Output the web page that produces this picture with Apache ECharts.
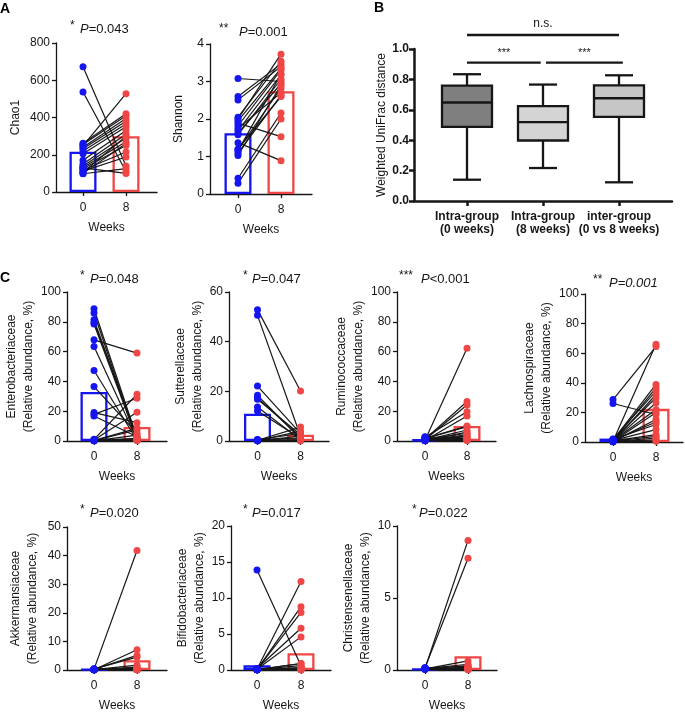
<!DOCTYPE html>
<html><head><meta charset="utf-8">
<script src="https://cdn.jsdelivr.net/npm/echarts@6/dist/echarts.min.js"></script>
<style>html,body{margin:0;padding:0;background:#fff}#c{width:685px;height:713px}</style>
</head><body><div id="c"></div><script>
// ---------------- DATA ----------------
const weeks = [0, 8];
const weekLabels = ['0', '8'];

const chao1Week0 = [673, 537, 262, 255, 248, 240, 232, 220, 205, 170, 150, 140, 132, 125, 118, 112, 105, 100, 98, 130];
const chao1Week8 = [140, 110, 420, 410, 528, 395, 380, 365, 350, 330, 310, 290, 270, 250, 215, 188, 300, 260, 125, 100];
const chao1Bars = [216, 300];

const shannonWeek0 = [3.08, 2.60, 2.51, 2.05, 2.00, 1.89, 1.82, 1.69, 1.62, 1.58, 1.37, 1.18, 1.15, 1.09, 1.03, 0.42, 0.29, 1.95, 1.20, 1.75];
const shannonWeek8 = [3.00, 3.47, 3.40, 3.54, 3.73, 1.53, 3.31, 3.18, 2.94, 3.06, 0.89, 2.82, 3.20, 2.63, 2.90, 2.16, 2.00, 3.35, 2.60, 2.70];
const shannonBars = [1.62, 2.74];

const enteroWeek0 = [88.8, 85.9, 81.4, 79.6, 78.5, 67.9, 63.5, 47.3, 36.5, 19.1, 17.9, 16.8, 1.1, 0.6, 0.4, 0.3, 0.2, 0.1, 0.5, 0.8];
const enteroWeek8 = [2.0, 0.5, 1.5, 3.0, 0.8, 59.0, 1.0, 0.5, 5.2, 12.3, 28.7, 2.9, 31.4, 19.3, 8.5, 7.4, 1.8, 4.0, 0.3, 1.2];
const enteroBars = [32.9, 9.4];

const sutterWeek0 = [52.9, 50.6, 22.1, 18.4, 17.4, 16.8, 13.7, 12.1, 0.3, 0.2, 0.5, 0.1, 0.4, 0.3, 0.2, 0.6, 0.1, 0.3];
const sutterWeek8 = [20.1, 2.0, 3.1, 0.9, 1.5, 2.5, 0.5, 1.0, 5.6, 4.0, 3.1, 2.0, 0.9, 0.3, 0.5, 1.2, 0.2, 0.1];
const sutterBars = [11.0, 2.55];

const ruminoWeek0 = [0.5, 1.2, 0.8, 2.5, 0.3, 1.5, 0.6, 0.9, 0.4, 2.0, 1.1, 0.7, 0.2, 1.8, 0.5, 0.3, 1.0, 0.6, 2.8, 0.4];
const ruminoWeek8 = [62.3, 26.5, 24.2, 19.7, 16.8, 9.6, 7.4, 5.2, 2.9, 1.1, 0.5, 3.5, 0.8, 10.0, 6.0, 2.0, 0.3, 4.2, 1.5, 0.7];
const ruminoBars = [1.0, 10.1];

const lachnoWeek0 = [28.7, 26.0, 0.5, 1.2, 0.8, 2.0, 0.3, 1.5, 0.6, 0.9, 0.4, 1.8, 1.1, 0.7, 0.2, 0.5, 0.3, 1.0, 0.6, 0.4];
const lachnoWeek8 = [64.5, 18.6, 66.0, 38.9, 36.6, 34.4, 32.1, 29.9, 26.5, 22.0, 15.2, 11.8, 8.4, 5.0, 2.7, 0.5, 20.0, 13.5, 3.8, 1.5];
const lachnoBars = [2.3, 22.4];

const akkerWeek0 = [0.3, 0.1, 0.2, 0.4, 0.1, 0.2, 0.3, 0.1, 0.2, 0.1, 0.3, 0.2, 0.1, 0.2, 0.1, 0.4, 0.2, 0.1, 0.3, 0.2];
const akkerWeek8 = [41.8, 7.1, 5.1, 4.5, 1.7, 0.6, 0.3, 0.1, 0.2, 0.5, 0.1, 0.3, 1.0, 0.2, 0.1, 0.4, 0.2, 0.1, 0.3, 0.2];
const akkerBars = [0.3, 3.4];

const bifidoWeek0 = [13.9, 0.1, 0.05, 0.1, 0.2, 0.1, 0.05, 0.1, 0.1, 0.05, 0.1, 0.2, 0.1, 0.05, 0.1, 0.1, 0.05, 0.1, 0.1, 0.05];
const bifidoWeek8 = [0.6, 12.3, 8.8, 8.0, 5.8, 4.6, 0.9, 0.3, 0.1, 0.05, 0.6, 0.2, 0.1, 0.05, 0.3, 0.1, 0.05, 0.2, 0.1, 0.9];
const bifidoBars = [0.67, 2.33];

const christWeek0 = [0.1, 0.15, 0.08, 0.1, 0.12, 0.05, 0.1, 0.08, 0.15, 0.1, 0.05, 0.1, 0.12, 0.08, 0.1, 0.05, 0.1, 0.08];
const christWeek8 = [9.0, 7.76, 0.63, 0.4, 0.25, 0.1, 0.05, 0.3, 0.15, 0.05, 0.2, 0.1, 0.05, 0.08, 0.1, 0.05, 0.02, 0.1];
const christBars = [0.08, 0.96];

const yNames = ['Chao1', 'Shannon',
  'Enterobacteriaceae\n(Relative abundance, %)', 'Sutterellaceae\n(Relative abundance, %)',
  'Ruminococcaceae\n(Relative abundance, %)', 'Lachnospiraceae\n(Relative abundance, %)',
  'Akkermansiaceae\n(Relative abundance, %)', 'Bifidobacteriaceae\n(Relative abundance, %)',
  'Christensenellaceae\n(Relative abundance, %)'];
const yMaxes = [800, 4, 100, 60, 100, 100, 50, 20, 10];
const yIntervals = [200, 1, 20, 20, 20, 20, 10, 5, 5];
const pStars = ['*', '**', '*', '*', '***', '**', '*', '*', '*'];
const pTexts = ['=0.043', '=0.001', '=0.048', '=0.047', '<0.001', '=0.001', '=0.020', '=0.017', '=0.022'];
const pAllItalic = [false, false, false, false, false, true, false, false, false];
const xAxisTitle = 'Weeks';

const boxCategories = ['Intra-group\n(0 weeks)', 'Intra-group\n(8 weeks)', 'inter-group\n(0 vs 8 weeks)'];
const boxMin = [0.140, 0.217, 0.123];
const boxQ1 = [0.488, 0.398, 0.554];
const boxMedian = [0.648, 0.519, 0.676];
const boxQ3 = [0.759, 0.624, 0.761];
const boxMax = [0.834, 0.766, 0.827];
const boxYName = 'Weighted UniFrac distance';
const sigLabels = ['n.s.', '***', '***'];
const sigFrom = [0, 0, 1.04];
const sigTo = [2, 0.97, 2.05];
const sigY = [1.092, 0.91, 0.91];

// ---------------- LAYOUT / STYLE ----------------
const FONT = '"Liberation Sans", Arial, Helvetica, sans-serif';
const BLUE = '#1515f2', RED = '#ef4646', INK = '#161616';
const boxFills = ['#7f7f7f', '#d4d4d4', '#c6c6c6'];

const dataSets = [
  [chao1Week0, chao1Week8, chao1Bars], [shannonWeek0, shannonWeek8, shannonBars],
  [enteroWeek0, enteroWeek8, enteroBars], [sutterWeek0, sutterWeek8, sutterBars],
  [ruminoWeek0, ruminoWeek8, ruminoBars], [lachnoWeek0, lachnoWeek8, lachnoBars],
  [akkerWeek0, akkerWeek8, akkerBars], [bifidoWeek0, bifidoWeek8, bifidoBars],
  [christWeek0, christWeek8, christBars]
];
// [left, top, right, bottom, px of week0, px of week8, yNameGap, starX, pX, textY]
const layout = [
  [56, 43, 157, 192, 83, 126, 32, 70, 80, 29],
  [210, 44, 312, 194, 238, 281, 23, 219, 239, 32],
  [67, 292, 167, 441, 94, 137, 24, 80, 90, 279],
  [229, 292, 329, 441, 257.5, 300.5, 21, 243, 252, 279],
  [397, 292, 496, 441, 425, 467, 18, 399, 421, 279],
  [585, 294, 683, 442, 613, 656, 28, 593, 609, 283],
  [67, 527, 167, 675, 94, 137, 26, 80, 90, 513],
  [231, 526, 331, 675, 257, 301, 23, 243, 252, 513],
  [397, 526, 497, 674, 425, 468, 20, 412, 419, 513]
];

const grids = [], xAxes = [], yAxes = [], series = [], graphics = [];
const txt = {color: INK, fontFamily: FONT};

dataSets.forEach((ds, i) => {
  const [w0, w8, bars] = ds;
  const [L, T, R, B, p0, p8, nGap, sX, pX, tY] = layout[i];
  const u = (p8 - p0) / 8;
  grids.push({left: L, top: T, width: R - L, height: B - T});
  xAxes.push({
    gridIndex: i, type: 'value', min: -(p0 - L) / u, max: 8 + (R - p8) / u,
    axisLine: {show: true, onZero: false, lineStyle: {color: INK, width: 1.3}},
    axisTick: {show: true, length: 4, customValues: weeks, lineStyle: {color: INK, width: 1.3}},
    axisLabel: {customValues: weeks, formatter: v => weekLabels[weeks.indexOf(v)], margin: 10, fontSize: 12, ...txt},
    splitLine: {show: false},
    name: xAxisTitle, nameLocation: 'middle', nameGap: 30, nameTextStyle: {fontSize: 12, ...txt}
  });
  yAxes.push({
    gridIndex: i, type: 'value', min: 0, max: yMaxes[i], interval: yIntervals[i],
    axisLine: {show: true, onZero: false, lineStyle: {color: INK, width: 1.3}},
    axisTick: {show: true, length: 4, lineStyle: {color: INK, width: 1.3}},
    axisLabel: {margin: 6, fontSize: 12, ...txt},
    splitLine: {show: false},
    name: yNames[i], nameLocation: 'middle', nameGap: nGap,
    nameTextStyle: {fontSize: 12, lineHeight: 17, ...txt}
  });
  series.push({
    type: 'bar', xAxisIndex: i, yAxisIndex: i, barWidth: 27, z: 1, silent: true,
    data: weeks.map((w, k) => ({value: [w, bars[k]],
      itemStyle: {color: 'rgba(0,0,0,0)', borderColor: k ? RED : BLUE, borderWidth: 2.3}}))
  });
  series.push({
    type: 'lines', coordinateSystem: 'cartesian2d', xAxisIndex: i, yAxisIndex: i, z: 3, silent: true,
    lineStyle: {color: INK, width: 1.2, opacity: 1},
    data: w0.map((v, k) => ({coords: [[weeks[0], v], [weeks[1], w8[k]]]}))
  });
  series.push({
    type: 'scatter', xAxisIndex: i, yAxisIndex: i, z: 4, symbolSize: 7, silent: true,
    itemStyle: {color: BLUE, opacity: 1}, data: w0.map(v => [weeks[0], v])
  });
  series.push({
    type: 'scatter', xAxisIndex: i, yAxisIndex: i, z: 4, symbolSize: 7, silent: true,
    itemStyle: {color: RED, opacity: 1}, data: w8.map(v => [weeks[1], v])
  });
  graphics.push({type: 'text', x: sX, y: tY - 3, style: {text: pStars[i], fontSize: 12, fill: INK, fontFamily: FONT, verticalAlign: 'middle'}});
  graphics.push({type: 'text', x: pX, y: tY, style: {
    text: '{i|P}{' + (pAllItalic[i] ? 'i' : 'n') + '|' + pTexts[i] + '}',
    verticalAlign: 'middle',
    rich: {i: {fontSize: 13, fontStyle: 'italic', fill: INK, fontFamily: FONT},
           n: {fontSize: 13, fill: INK, fontFamily: FONT}}}});
});

// Panel B: box plots
const bi = dataSets.length;
const bL = 414, bT = 49, bR = 672, bB = 201, bp0 = 467, bp2 = 619;
const bu = (bp2 - bp0) / 2;
grids.push({left: bL, top: bT, width: bR - bL, height: bB - bT});
xAxes.push({
  gridIndex: bi, type: 'value', min: -(bp0 - bL) / bu, max: 2 + (bR - bp2) / bu,
  axisLine: {show: true, onZero: false, lineStyle: {color: INK, width: 2.5}},
  axisTick: {show: true, length: 5, customValues: [0, 1, 2], lineStyle: {color: INK, width: 2.5}},
  axisLabel: {customValues: [0, 1, 2], formatter: v => boxCategories[Math.round(v)], margin: 9,
    fontSize: 12, fontWeight: 'bold', lineHeight: 13, ...txt},
  splitLine: {show: false}
});
yAxes.push({
  gridIndex: bi, type: 'value', min: 0, max: 1, interval: 0.2,
  axisLine: {show: true, onZero: false, lineStyle: {color: INK, width: 2.5}},
  axisTick: {show: true, length: 5, lineStyle: {color: INK, width: 2.5}},
  axisLabel: {formatter: v => v.toFixed(1), margin: 5, fontSize: 12, fontWeight: 'bold', ...txt},
  splitLine: {show: false},
  name: boxYName, nameLocation: 'middle', nameGap: 26, nameTextStyle: {fontSize: 12, ...txt}
});
series.push({
  type: 'custom', xAxisIndex: bi, yAxisIndex: bi, z: 2, silent: true,
  encode: {x: 0, y: [1, 2, 3, 4, 5]},
  data: boxMin.map((m, k) => [k, boxMin[k], boxQ1[k], boxMedian[k], boxQ3[k], boxMax[k]]),
  renderItem: (params, api) => {
    const x = api.value(0);
    const pts = [1, 2, 3, 4, 5].map(d => api.coord([x, api.value(d)]));
    const cx = pts[0][0], bw = 50, cw = 28;
    const ls = {stroke: INK, lineWidth: 2.3};
    return {type: 'group', children: [
      {type: 'line', shape: {x1: cx, y1: pts[4][1], x2: cx, y2: pts[3][1]}, style: ls},
      {type: 'line', shape: {x1: cx, y1: pts[1][1], x2: cx, y2: pts[0][1]}, style: ls},
      {type: 'line', shape: {x1: cx - cw / 2, y1: pts[4][1], x2: cx + cw / 2, y2: pts[4][1]}, style: ls},
      {type: 'line', shape: {x1: cx - cw / 2, y1: pts[0][1], x2: cx + cw / 2, y2: pts[0][1]}, style: ls},
      {type: 'rect', shape: {x: cx - bw / 2, y: pts[3][1], width: bw, height: pts[1][1] - pts[3][1]},
        style: {fill: boxFills[params.dataIndex], stroke: INK, lineWidth: 2.3}},
      {type: 'line', shape: {x1: cx - bw / 2, y1: pts[2][1], x2: cx + bw / 2, y2: pts[2][1]}, style: ls}
    ]};
  }
});
series.push({
  type: 'custom', xAxisIndex: bi, yAxisIndex: bi, z: 2, silent: true, clip: false,
  encode: {x: [0, 1], y: 2},
  data: sigFrom.map((f, k) => [f, sigTo[k], sigY[k]]),
  renderItem: (params, api) => {
    const a = api.coord([api.value(0), api.value(2)]);
    const b = api.coord([api.value(1), api.value(2)]);
    const lab = sigLabels[params.dataIndex];
    const isStar = lab.indexOf('*') >= 0;
    return {type: 'group', children: [
      {type: 'line', shape: {x1: a[0], y1: a[1], x2: b[0], y2: b[1]}, style: {stroke: INK, lineWidth: 2.3}},
      {type: 'text', x: (a[0] + b[0]) / 2, y: a[1] - (isStar ? 10 : 11),
        style: {text: lab, fontSize: isStar ? 11 : 12, fill: INK, fontFamily: FONT, align: 'center', verticalAlign: 'middle'}}
    ]};
  }
});

// Panel letters
[['A', 5, 9], ['B', 379, 8], ['C', 5, 278]].forEach(([t, x, y]) => {
  graphics.push({type: 'text', x: x, y: y, style: {text: t, fontSize: 14, fontWeight: 'bold', fill: '#000',
    fontFamily: FONT, align: 'center', verticalAlign: 'middle'}});
});

const chart = echarts.init(document.getElementById('c'));
chart.setOption({
  animation: false, backgroundColor: '#fff',
  grid: grids, xAxis: xAxes, yAxis: yAxes, series: series, graphic: graphics
});
</script></body></html>
